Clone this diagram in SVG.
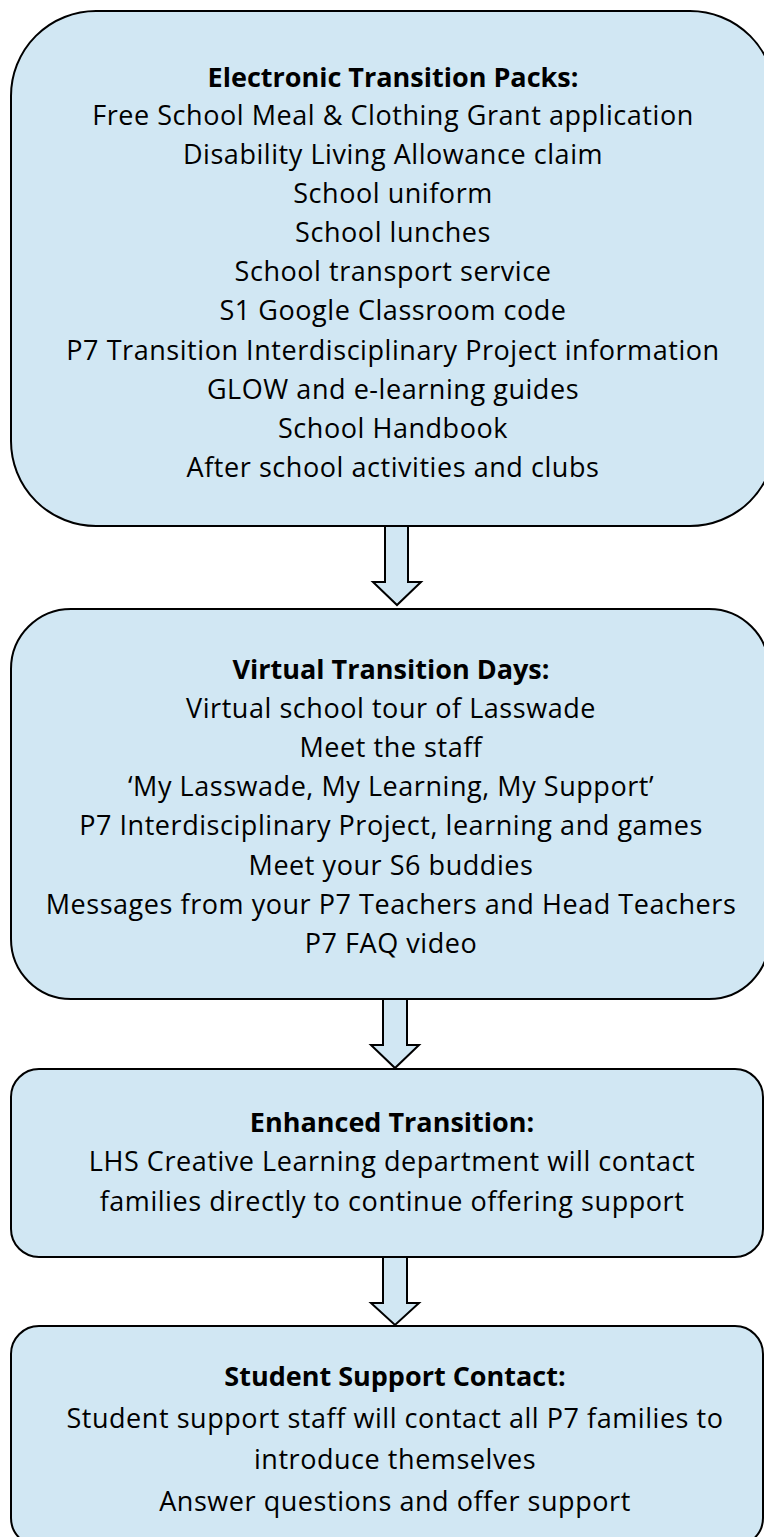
<svg xmlns="http://www.w3.org/2000/svg" width="764" height="1537" viewBox="0 0 764 1537">
<style>
.box{fill:#D1E7F3;stroke:#000;stroke-width:2}
.arr{fill:#D1E7F3;stroke:#000;stroke-width:2;stroke-linejoin:miter}
text{font-family:"Open Sans","Noto Sans",sans-serif;font-size:27px;letter-spacing:0.55px;fill:#000;text-anchor:middle}
.t{font-weight:bold;letter-spacing:0}
</style>
<rect width="764" height="1537" fill="#fff"/>
<g id="connectors">
<path class="arr" d="M385,527 V582 H373 L397,605 L421,582 H408 V527"/>
<path class="arr" d="M383,1000 V1045 H371 L395,1068 L419,1045 H407 V1000"/>
<path class="arr" d="M383,1258 V1303 H371 L395,1325 L419,1303 H407 V1258"/>
</g>
<g id="node1">
<rect class="box" x="11" y="11" width="764" height="515" rx="85" ry="85"/>
<text x="393" y="87" class="t">Electronic Transition Packs:</text>
<text x="393" y="125">Free School Meal &amp; Clothing Grant application</text>
<text x="393" y="164">Disability Living Allowance claim</text>
<text x="393" y="203">School uniform</text>
<text x="393" y="242">School lunches</text>
<text x="393" y="281">School transport service</text>
<text x="393" y="320">S1 Google Classroom code</text>
<text x="393" y="360">P7 Transition Interdisciplinary Project information</text>
<text x="393" y="399">GLOW and e-learning guides</text>
<text x="393" y="438">School Handbook</text>
<text x="393" y="477">After school activities and clubs</text>
</g>
<g id="node2">
<rect class="box" x="11" y="609" width="758" height="390" rx="60" ry="60"/>
<text x="391" y="679" class="t">Virtual Transition Days:</text>
<text x="391" y="718">Virtual school tour of Lasswade</text>
<text x="391" y="757">Meet the staff</text>
<text x="391" y="796">‘My Lasswade, My Learning, My Support’</text>
<text x="391" y="835">P7 Interdisciplinary Project, learning and games</text>
<text x="391" y="875">Meet your S6 buddies</text>
<text x="391" y="914">Messages from your P7 Teachers and Head Teachers</text>
<text x="391" y="953">P7 FAQ video</text>
</g>
<g id="node3">
<rect class="box" x="11" y="1069" width="752" height="188" rx="28" ry="28"/>
<text x="392" y="1132" class="t">Enhanced Transition:</text>
<text x="392" y="1171">LHS Creative Learning department will contact</text>
<text x="392" y="1211">families directly to continue offering support</text>
</g>
<g id="node4">
<rect class="box" x="11" y="1326" width="752" height="220" rx="28" ry="28"/>
<text x="395" y="1386" class="t">Student Support Contact:</text>
<text x="395" y="1428">Student support staff will contact all P7 families to</text>
<text x="395" y="1469">introduce themselves</text>
<text x="395" y="1511">Answer questions and offer support</text>
</g>
</svg>
